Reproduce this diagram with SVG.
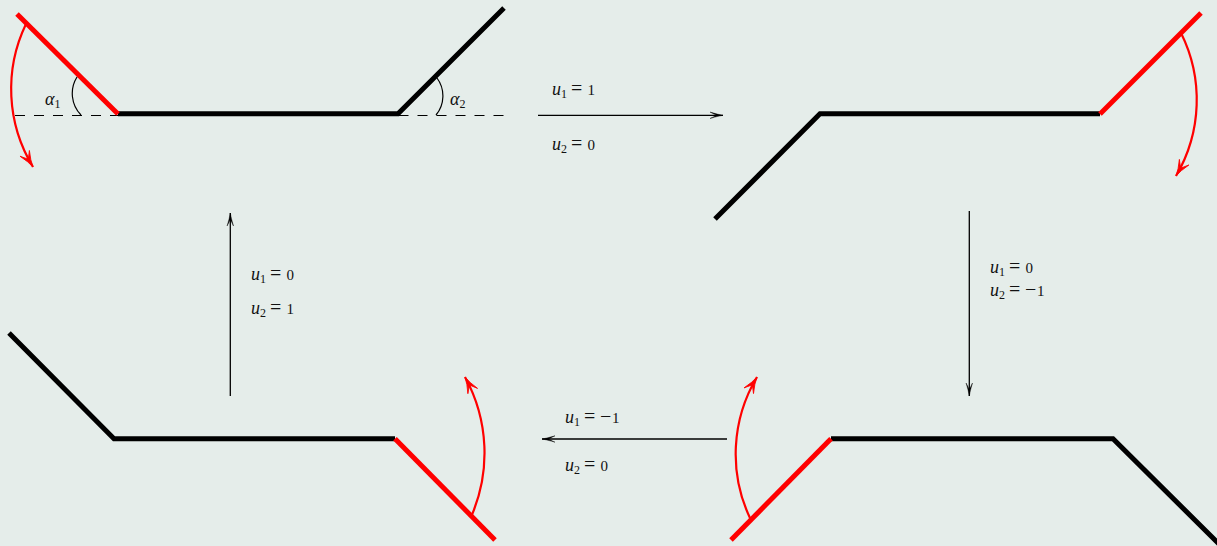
<svg xmlns="http://www.w3.org/2000/svg" width="1217" height="546" viewBox="0 0 1217 546">
<style>
.bar{fill:none;stroke:#000;stroke-width:5}
.act{fill:none;stroke:#f00;stroke-width:5}
.rot{fill:none;stroke:#f00;stroke-width:2.2;marker-end:url(#ra)}
.arr{fill:none;stroke:#000;stroke-width:1.3;marker-end:url(#ka)}
.ang{fill:none;stroke:#000;stroke-width:1.2}
.dash{fill:none;stroke:#000;stroke-width:1.1;stroke-dasharray:10 9}
text{font-family:"Liberation Serif","Times New Roman",serif;font-size:15px;fill:#111}
.v{font-style:italic;font-size:18px}
.s{font-size:12px}
.e{font-size:20px}
</style>
<defs>
<marker id="ka" markerUnits="userSpaceOnUse" markerWidth="16" markerHeight="12" refX="14" refY="6" orient="auto"><path d="M1 2.800Q9 5.200 14 6Q9 6.800 1 9.200L7.500 6Z" fill="#000" stroke="#000" stroke-width=".4"/></marker>
<marker id="ra" markerUnits="userSpaceOnUse" markerWidth="20" markerHeight="16" refX="17" refY="8" orient="auto"><path d="M1 2.500Q10 6.800 17 8Q10 9.200 1 13.500L8 8Z" fill="#f00" stroke="#f00" stroke-width=".8"/></marker>
</defs>
<rect width="1217" height="546" fill="#e5edea"/>
<g id="state-top-left">
<path class="dash" d="M15 115.500H118M398.500 115.500H505"/>
<path class="bar" d="M118 113.700H398L504 8"/>
<path class="act" d="M17 14L118 114"/>
<path class="rot" d="M26 24A150 150 0 0 0 33 167"/>
<path class="ang" d="M77 77A31 31 0 0 0 81 115M437 78A30 30 0 0 1 436 115"/>
<text x="45" y="105"><tspan class="v">α</tspan><tspan class="s" dy="3">1</tspan></text>
<text x="450" y="105"><tspan class="v">α</tspan><tspan class="s" dy="3">2</tspan></text>
</g>
<g id="state-top-right">
<path class="bar" d="M715 219L820 113.700H1100"/>
<path class="act" d="M1100 114L1201 13"/>
<path class="rot" d="M1181 33A150 150 0 0 1 1176 176"/>
</g>
<g id="state-bottom-right">
<path class="bar" d="M831 438.700H1113L1219 544"/>
<path class="act" d="M831 438.700L731 540"/>
<path class="rot" d="M750 518A150 150 0 0 1 757 377"/>
</g>
<g id="state-bottom-left">
<path class="bar" d="M9 333L114 438.700H395"/>
<path class="act" d="M395 438.700L495 540"/>
<path class="rot" d="M471 517A158 158 0 0 0 465 377"/>
</g>
<g id="connectors">
<path class="arr" d="M538 115.300H723"/>
<path class="arr" d="M969.300 211V396"/>
<path class="arr" d="M727 439H542"/>
<path class="arr" d="M230.300 396V213"/>
</g>
<g id="labels">
<text y="95"><tspan class="v" x="552">u</tspan><tspan class="s" x="561" dy="3">1</tspan><tspan class="e" x="571" dy="-3">=</tspan><tspan x="587.500">1</tspan></text>
<text y="150"><tspan class="v" x="552">u</tspan><tspan class="s" x="561" dy="3">2</tspan><tspan class="e" x="571" dy="-3">=</tspan><tspan x="587.500">0</tspan></text>
<text y="273"><tspan class="v" x="990">u</tspan><tspan class="s" x="999" dy="3">1</tspan><tspan class="e" x="1009" dy="-3">=</tspan><tspan x="1025.500">0</tspan></text>
<text y="296"><tspan class="v" x="990">u</tspan><tspan class="s" x="999" dy="3">2</tspan><tspan class="e" x="1009" dy="-3">=</tspan><tspan class="e" x="1025">−</tspan><tspan x="1037">1</tspan></text>
<text y="423"><tspan class="v" x="565">u</tspan><tspan class="s" x="574" dy="3">1</tspan><tspan class="e" x="584" dy="-3">=</tspan><tspan class="e" x="600">−</tspan><tspan x="612">1</tspan></text>
<text y="471"><tspan class="v" x="565">u</tspan><tspan class="s" x="574" dy="3">2</tspan><tspan class="e" x="584" dy="-3">=</tspan><tspan x="600.500">0</tspan></text>
<text y="280"><tspan class="v" x="251">u</tspan><tspan class="s" x="260" dy="3">1</tspan><tspan class="e" x="270" dy="-3">=</tspan><tspan x="286.500">0</tspan></text>
<text y="314"><tspan class="v" x="251">u</tspan><tspan class="s" x="260" dy="3">2</tspan><tspan class="e" x="270" dy="-3">=</tspan><tspan x="286.500">1</tspan></text>
</g>
</svg>
